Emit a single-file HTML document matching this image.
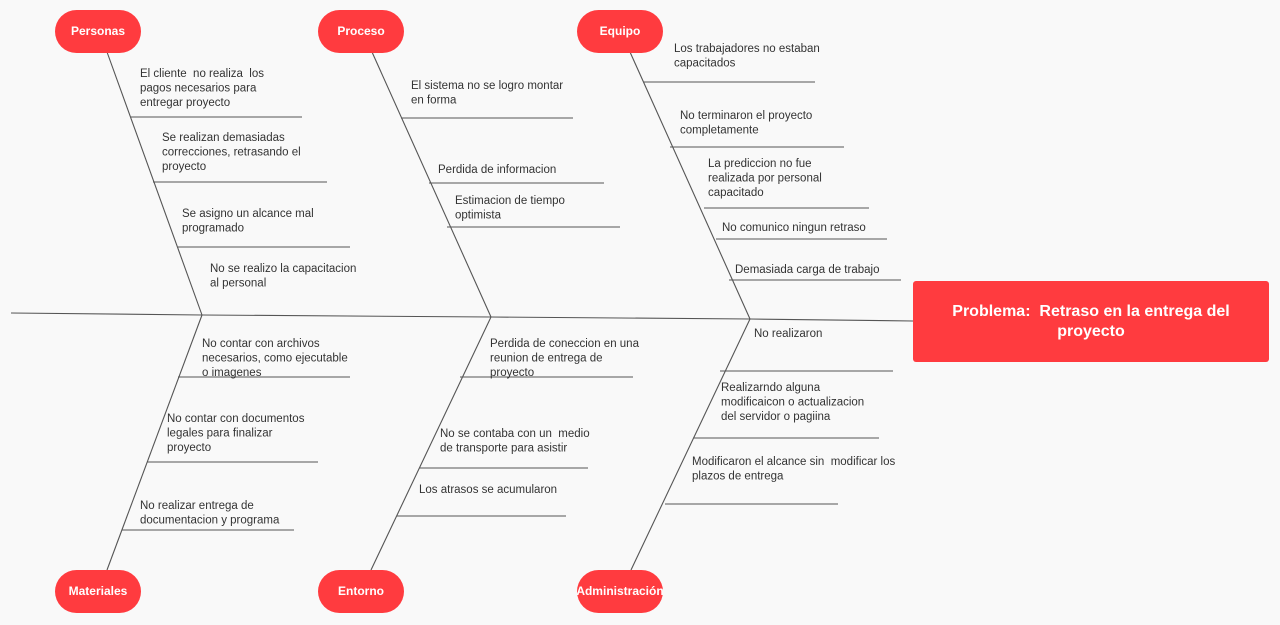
<!DOCTYPE html>
<html><head><meta charset="utf-8"><style>
html,body{margin:0;padding:0;background:#f9f9f9;}
svg{display:block;}
text{font-family:"Liberation Sans",sans-serif;font-size:11.5px;fill:#333;white-space:pre;}
.n{font-size:12px;font-weight:bold;fill:#fff;text-anchor:middle;}
.p{font-size:16px;font-weight:bold;fill:#fff;text-anchor:middle;}
</style></head><body>
<svg width="1280" height="625" viewBox="0 0 1280 625" xmlns="http://www.w3.org/2000/svg" xml:space="preserve">
<g stroke="#555" stroke-width="1.1" fill="none">
<polyline points="11,313 202,315 491,317 750,319 913,321"/>
<line x1="107" y1="52" x2="202" y2="315"/>
<line x1="372" y1="52" x2="491" y2="317"/>
<line x1="630" y1="52" x2="750" y2="319"/>
<line x1="107" y1="570" x2="202" y2="315"/>
<line x1="371" y1="570" x2="491" y2="317"/>
<line x1="631" y1="570" x2="750" y2="319"/>
<line x1="130" y1="117" x2="302" y2="117"/>
<line x1="153" y1="182" x2="327" y2="182"/>
<line x1="178" y1="247" x2="350" y2="247"/>
<line x1="401" y1="118" x2="573" y2="118"/>
<line x1="429" y1="183" x2="604" y2="183"/>
<line x1="447" y1="227" x2="620" y2="227"/>
<line x1="643" y1="82" x2="815" y2="82"/>
<line x1="670" y1="147" x2="844" y2="147"/>
<line x1="704" y1="208" x2="869" y2="208"/>
<line x1="716" y1="239" x2="887" y2="239"/>
<line x1="729" y1="280" x2="901" y2="280"/>
<line x1="178" y1="377" x2="350" y2="377"/>
<line x1="147" y1="462" x2="318" y2="462"/>
<line x1="122" y1="530" x2="294" y2="530"/>
<line x1="460" y1="377" x2="633" y2="377"/>
<line x1="419" y1="468" x2="588" y2="468"/>
<line x1="397" y1="516" x2="566" y2="516"/>
<line x1="720" y1="371" x2="893" y2="371"/>
<line x1="693" y1="438" x2="879" y2="438"/>
<line x1="665" y1="504" x2="838" y2="504"/>
</g>
<g fill="#ff3b3f">
<rect x="55" y="10" width="86" height="43" rx="21.5"/>
<rect x="318" y="10" width="86" height="43" rx="21.5"/>
<rect x="577" y="10" width="86" height="43" rx="21.5"/>
<rect x="55" y="570" width="86" height="43" rx="21.5"/>
<rect x="318" y="570" width="86" height="43" rx="21.5"/>
<rect x="577" y="570" width="86" height="43" rx="21.5"/>
<rect x="913" y="281" width="356" height="81" rx="3"/>
</g>
<text class="n" x="98" y="35">Personas</text>
<text class="n" x="361" y="35">Proceso</text>
<text class="n" x="620" y="35">Equipo</text>
<text class="n" x="98" y="595">Materiales</text>
<text class="n" x="361" y="595">Entorno</text>
<text class="n" x="620" y="595">Administración</text>
<text class="p" x="1091" y="316">Problema:  Retraso en la entrega del</text>
<text class="p" x="1091" y="336">proyecto</text>

<text x="140" y="77">El cliente  no realiza  los</text>
<text x="140" y="91.5">pagos necesarios para</text>
<text x="140" y="106">entregar proyecto</text>
<text x="162" y="141">Se realizan demasiadas</text>
<text x="162" y="155.5">correcciones, retrasando el</text>
<text x="162" y="170">proyecto</text>
<text x="182" y="217">Se asigno un alcance mal</text>
<text x="182" y="231.5">programado</text>
<text x="210" y="272">No se realizo la capacitacion</text>
<text x="210" y="286.5">al personal</text>

<text x="411" y="89">El sistema no se logro montar</text>
<text x="411" y="103.5">en forma</text>
<text x="438" y="173">Perdida de informacion</text>
<text x="455" y="204">Estimacion de tiempo</text>
<text x="455" y="218.5">optimista</text>

<text x="674" y="52">Los trabajadores no estaban</text>
<text x="674" y="66.5">capacitados</text>
<text x="680" y="119">No terminaron el proyecto</text>
<text x="680" y="133.5">completamente</text>
<text x="708" y="167">La prediccion no fue</text>
<text x="708" y="181.5">realizada por personal</text>
<text x="708" y="196">capacitado</text>
<text x="722" y="231">No comunico ningun retraso</text>
<text x="735" y="273">Demasiada carga de trabajo</text>

<text x="202" y="347">No contar con archivos</text>
<text x="202" y="361.5">necesarios, como ejecutable</text>
<text x="202" y="376">o imagenes</text>
<text x="167" y="422">No contar con documentos</text>
<text x="167" y="436.5">legales para finalizar</text>
<text x="167" y="451">proyecto</text>
<text x="140" y="509">No realizar entrega de</text>
<text x="140" y="523.5">documentacion y programa</text>

<text x="490" y="347">Perdida de coneccion en una</text>
<text x="490" y="361.5">reunion de entrega de</text>
<text x="490" y="376">proyecto</text>
<text x="440" y="437">No se contaba con un  medio</text>
<text x="440" y="451.5">de transporte para asistir</text>
<text x="419" y="493">Los atrasos se acumularon</text>

<text x="754" y="337">No realizaron</text>
<text x="721" y="391">Realizarndo alguna</text>
<text x="721" y="405.5">modificaicon o actualizacion</text>
<text x="721" y="420">del servidor o pagiina</text>
<text x="692" y="465">Modificaron el alcance sin  modificar los</text>
<text x="692" y="479.5">plazos de entrega</text>
</svg>
</body></html>
